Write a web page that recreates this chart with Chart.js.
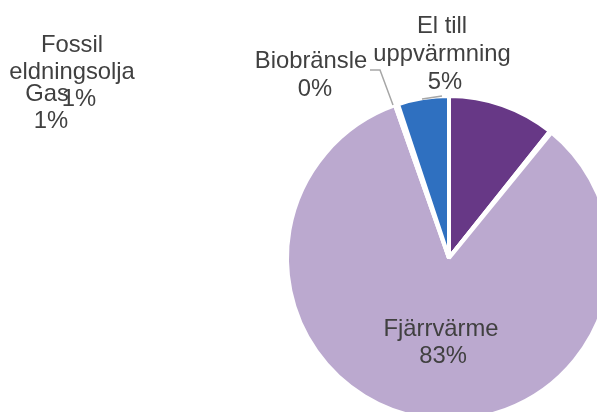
<!DOCTYPE html>
<html>
<head>
<meta charset="utf-8">
<script src="https://cdn.jsdelivr.net/npm/chart.js@4/dist/chart.umd.min.js"></script>
<style>
    html, body { margin: 0; padding: 0; background: #fff; overflow: hidden; }
    #wrap { position: absolute; left: 0; top: 0; width: 640px; height: 440px; }
</style>
</head>
<body>
<div id="wrap"><canvas id="pie-chart" width="640" height="440"></canvas></div>
<script>
// slices, clockwise from 12 o'clock
const categories = ['', 'Fossil eldningsolja', 'Gas', 'Fjärrvärme', 'Biobränsle', 'El till uppvärmning']
const shares     = [10.7, 0.1, 0.1, 83.7, 0.3, 5.1]
const pctLabels  = ['', '1%', '1%', '83%', '0%', '5%']
const colors     = ['#673886', '#9dc3e6', '#d9d9d9', '#bba9cf', '#ffffff', '#2f70c0']

// where the data labels sit (moved by hand in the original)
const labelSpots = {
    'Fossil eldningsolja': { lines: [['Fossil', 72, 52], ['eldningsolja', 72, 79], ['1%', 79, 106]] },
    'Gas':                 { lines: [['Gas', 47, 101], ['1%', 51, 128]] },
    'Fjärrvärme':          { lines: [['Fjärrvärme', 441, 336], ['83%', 443, 363]] },
    'Biobränsle':          { lines: [['Biobränsle', 311, 68], ['0%', 315, 96]],
                             leader: [[370, 70], [380, 70], [393, 105]] },
    'El till uppvärmning': { lines: [['El till', 442, 33], ['uppvärmning', 442, 61], ['5%', 445, 89]],
                             leader: [[422, 99], [442, 96]] }
}

const labelPlugin = {
    id: 'pieLabels',
    afterDraw(chart) {
        const ctx = chart.ctx
        ctx.save()
        Object.values(labelSpots).forEach(spot => {
            if (spot.leader) {
                ctx.strokeStyle = '#a6a6a6'
                ctx.lineWidth = 1.5
                ctx.beginPath()
                spot.leader.forEach((p, i) => i ? ctx.lineTo(p[0], p[1]) : ctx.moveTo(p[0], p[1]))
                ctx.stroke()
            }
        })
        ctx.font = '23.8px "Liberation Sans", Arial, sans-serif'
        ctx.fillStyle = '#404040'
        ctx.textAlign = 'center'
        ctx.textBaseline = 'alphabetic'
        Object.values(labelSpots).forEach(spot => {
            spot.lines.forEach(([txt, x, y]) => ctx.fillText(txt, x, y))
        })
        ctx.restore()
    }
}

document.addEventListener('DOMContentLoaded', () => {
    const ctx = document.getElementById('pie-chart').getContext('2d')

    new Chart(ctx, {
        type: 'pie',
        data: {
            labels: categories,
            datasets: [{
                data: shares,
                backgroundColor: colors,
                borderColor: '#ffffff',
                borderWidth: 4
            }]
        },
        options: {
            responsive: false,
            animation: false,
            devicePixelRatio: 1,
            layout: { padding: { left: 285, right: 27, top: 94, bottom: 18 } },
            plugins: {
                legend: { display: false },
                tooltip: { enabled: false }
            }
        },
        plugins: [labelPlugin]
    })
})
</script>
</body>
</html>
